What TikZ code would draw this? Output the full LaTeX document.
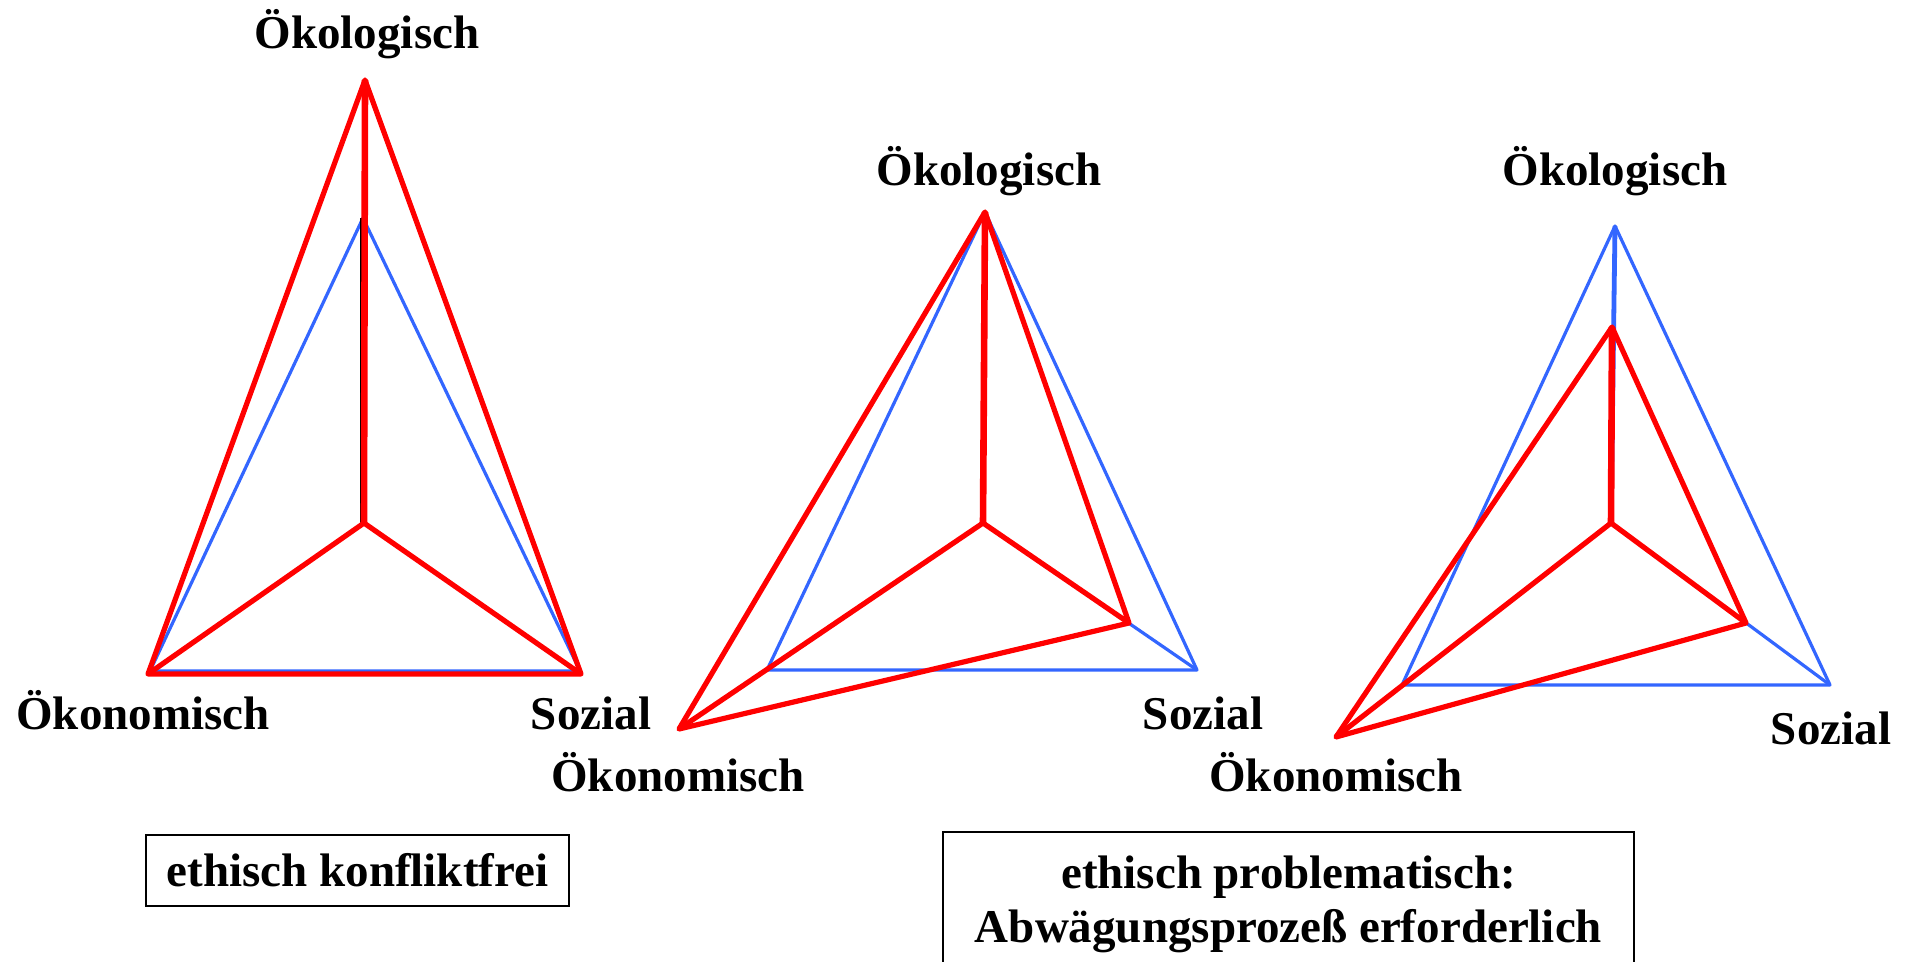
\documentclass[tikz,border=0pt]{standalone}
\usepackage{fontspec}
\setmainfont{Liberation Serif}
\definecolor{myred}{RGB}{255,0,0}
\definecolor{myblue}{RGB}{51,102,255}
\newcommand\lblfont{\fontsize{23.5pt}{27pt}\selectfont\bfseries}
\begin{document}
\begin{tikzpicture}[x=0.5pt,y=-0.5pt,
  bluel/.style={draw=myblue,line width=1.6pt,line join=round},
  bluethick/.style={draw=myblue,line width=2.4pt},
  redl/.style={draw=myred,line width=2.6pt,line join=round},
  redthick/.style={draw=myred,line width=3.3pt},
  blackl/.style={draw=black,line width=1pt},
  lbl/.style={anchor=base,font=\lblfont,inner sep=0pt},
  boxnode/.style={draw=black,line width=1.1pt,font=\lblfont,align=center}]
\useasboundingbox (0,0) rectangle (1910,962);
\fill[white] (0,0) rectangle (1910,962);
\clip (0,0) rectangle (1910,962);

% ---------- left diagram ----------
\coordinate (LrT) at (365,80);
\coordinate (LbT) at (363,218);
\coordinate (LC)  at (364,523);
\coordinate (LrL) at (148,674);
\coordinate (LrR) at (581,674);
\coordinate (LbL) at (150,671);
\coordinate (LbR) at (580,671);
\coordinate (LkT) at (361,218);
\coordinate (LkC) at (361,523);
\draw[bluel] (LbL) -- (LbT) -- (LbR) -- cycle;
\draw[blackl] (LkT) -- (LkC);
\draw[redl] (LrL) -- (LrT) -- (LrR) -- cycle;
\draw[redl] (LrL) -- (LC) -- (LrR);
\draw[redthick] (LC) -- (LrT);
\node[lbl] (L1) at (367,49) {Ökologisch};
\node[lbl] (L2) at (143,729) {Ökonomisch};
\node[lbl] (L3) at (591,729) {Sozial};

% ---------- middle diagram ----------
\coordinate (MbT) at (985,212);
\coordinate (MbL) at (767,670);
\coordinate (MbR) at (1197,670);
\coordinate (MC)  at (983,523);
\coordinate (MrT) at (985,212);
\coordinate (MrL) at (679,729);
\coordinate (MrR) at (1129,623);
\draw[bluel] (MbL) -- (MbT) -- (MbR) -- cycle;
\draw[bluel] (MbL) -- (MC) -- (MbR);
\draw[bluel] (MC) -- (MbT);
\draw[redl] (MrL) -- (MrT) -- (MrR) -- cycle;
\draw[redl] (MrL) -- (MC) -- (MrR);
\draw[redthick] (MC) -- (MrT);
\node[lbl] (M1) at (989,186) {Ökologisch};
\node[lbl] (M2) at (678,791) {Ökonomisch};
\node[lbl] (M3) at (1203,729) {Sozial};

% ---------- right diagram ----------
\coordinate (RbT) at (1615,226);
\coordinate (RbL) at (1402,685);
\coordinate (RbR) at (1830,685);
\coordinate (RC)  at (1611,523);
\coordinate (RrT) at (1612,327);
\coordinate (RrL) at (1336,737);
\coordinate (RrR) at (1746,623);
\draw[bluel] (RbL) -- (RbT) -- (RbR) -- cycle;
\draw[bluel] (RbL) -- (RC) -- (RbR);
\draw[bluethick] (RC) -- (RbT);
\draw[redl] (RrL) -- (RrT) -- (RrR) -- cycle;
\draw[redl] (RrL) -- (RC) -- (RrR);
\draw[redthick] (RC) -- (RrT);
\node[lbl] (R1) at (1615,186) {Ökologisch};
\node[lbl] (R2) at (1336,791) {Ökonomisch};
\node[lbl] (R3) at (1831,744) {Sozial};

% ---------- boxes ----------
\node[boxnode,minimum width=211.5pt,minimum height=35.5pt,inner sep=0pt] (B1) at (357.5,870.5) {ethisch konfliktfrei};
\node[boxnode,anchor=north,minimum width=345.5pt,inner xsep=0pt,inner ysep=12pt] (B2) at (1288.5,831) {ethisch problematisch:\\Abwägungsprozeß erforderlich};
\end{tikzpicture}
\end{document}
